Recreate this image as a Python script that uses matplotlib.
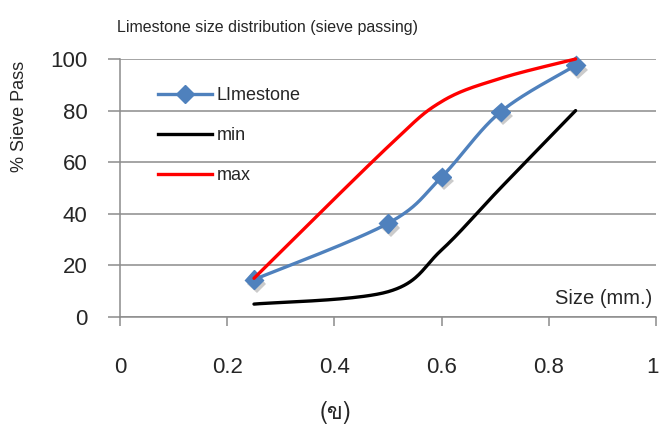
import numpy as np
import matplotlib
matplotlib.use('Agg')
import matplotlib.pyplot as plt
import matplotlib.patheffects as pe
import matplotlib.transforms as mtransforms
from matplotlib import font_manager, ft2font

# sieve sizes (mm) and % passing
sizes = [0.25, 0.5, 0.6, 0.71, 0.85]
limestone = [14.5, 36.3, 54.3, 79.5, 97.5]
spec_min = [5.0, 9.8, 26.0, 50.0, 80.0]
spec_max = [15.0, 66.0, 83.5, 92.5, 100.0]

x_ticks = [0, 0.2, 0.4, 0.6, 0.8, 1]
x_tick_labels = ['0', '0.2', '0.4', '0.6', '0.8', '1']
y_ticks = [0, 20, 40, 60, 80, 100]

BLUE = '#4F81BD'
GRID = '#8C8C8C'
TXT = '#262626'
FONT = ['Liberation Sans', 'DejaVu Sans']


def thai_family():
    # first installed font that has the Thai letter "kho khai"
    for f in font_manager.fontManager.ttflist:
        try:
            if 0x0E02 in ft2font.FT2Font(f.fname).get_charmap():
                return f.name
        except Exception:
            continue
    return 'DejaVu Sans'


def smooth(xs, ys, n=40):
    # Bezier smoothing through every point, like a spreadsheet "smoothed line"
    p = np.column_stack([xs, ys]).astype(float)
    p = np.vstack([p[0], p, p[-1]])
    t = np.linspace(0, 1, n)[:, None]
    segs = []
    for i in range(1, len(p) - 2):
        p0, p1, p2, p3 = p[i - 1], p[i], p[i + 1], p[i + 2]
        c1 = p1 + (p2 - p0) / 6
        c2 = p2 - (p3 - p1) / 6
        segs.append((1 - t) ** 3 * p1 + 3 * (1 - t) ** 2 * t * c1
                    + 3 * (1 - t) * t ** 2 * c2 + t ** 3 * p2)
    s = np.vstack(segs)
    return s[:, 0], s[:, 1]


plt.rcParams['font.family'] = FONT

fig = plt.figure(figsize=(6.6, 4.28), dpi=100)
W, H = 660, 428
ax = fig.add_axes([120 / W, 1 - 317 / H, 536 / W, 258 / H])

lw = 2.4
sx, sy = smooth(sizes, limestone)
ax.plot(sx, sy, color=BLUE, lw=lw, zorder=3, clip_on=False, solid_capstyle='round')
ax.plot(sizes, limestone, ls='none', marker='D', ms=9.5, color=BLUE, zorder=4,
        clip_on=False,
        path_effects=[pe.SimplePatchShadow(offset=(2, -3), alpha=0.3, shadow_rgbFace='#555555'),
                      pe.Normal()])
sx, sy = smooth(sizes, spec_min)
ax.plot(sx, sy, color='black', lw=lw, zorder=5, clip_on=False, solid_capstyle='round')
sx, sy = smooth(sizes, spec_max)
ax.plot(sx, sy, color='#FF0000', lw=lw, zorder=6, clip_on=False, solid_capstyle='round')

# legend handles
h1, = ax.plot([], [], color=BLUE, lw=lw, marker='D', ms=9.5, label='LImestone')
h2, = ax.plot([], [], color='black', lw=lw, label='min')
h3, = ax.plot([], [], color='#FF0000', lw=lw, label='max')
ax.legend(handles=[h1, h2, h3], loc='upper left', bbox_to_anchor=(0.04, 0.955),
          frameon=False, fontsize=13, handlelength=3.0, handletextpad=0.28,
          labelspacing=1.28, labelcolor=TXT)

ax.set_xlim(0, 1)
ax.set_ylim(0, 100)
ax.set_xticks(x_ticks)
ax.set_xticklabels(x_tick_labels)
ax.set_yticks(y_ticks)
ax.grid(axis='y', color=GRID, lw=1.1)
ax.set_axisbelow(True)
for side in ['top', 'right']:
    ax.spines[side].set_visible(False)
for side in ['left', 'bottom']:
    ax.spines[side].set_color(GRID)
    ax.spines[side].set_linewidth(1.1)
ax.tick_params(axis='y', length=8.5, width=1.1, color=GRID, pad=15,
               labelsize=16, labelcolor=TXT)
ax.tick_params(axis='x', length=6.5, width=1.1, color=GRID, pad=22,
               labelsize=16, labelcolor=TXT)
# keep the last x label inside the figure
last = ax.get_xticklabels()[-1]
last.set_transform(last.get_transform()
                   + mtransforms.ScaledTranslation(-4 / 100, 0, fig.dpi_scale_trans))

fig.text(117 / W, 1 - 32 / H, 'Limestone size distribution (sieve passing)',
         fontsize=11.5, color=TXT, ha='left', va='baseline')
fig.text(20 / W, 1 - 116 / H, '% Sieve Pass', rotation=90, fontsize=13,
         color=TXT, ha='center', va='center')
fig.text(652 / W, 1 - 304 / H, 'Size (mm.)', fontsize=14.5, color=TXT,
         ha='right', va='baseline')
fig.text(336 / W, 1 - 413 / H, '(ข)', fontsize=17, color=TXT, ha='center',
         va='center', family=[thai_family(), 'DejaVu Sans'])

fig.savefig('out.png', dpi=100)
